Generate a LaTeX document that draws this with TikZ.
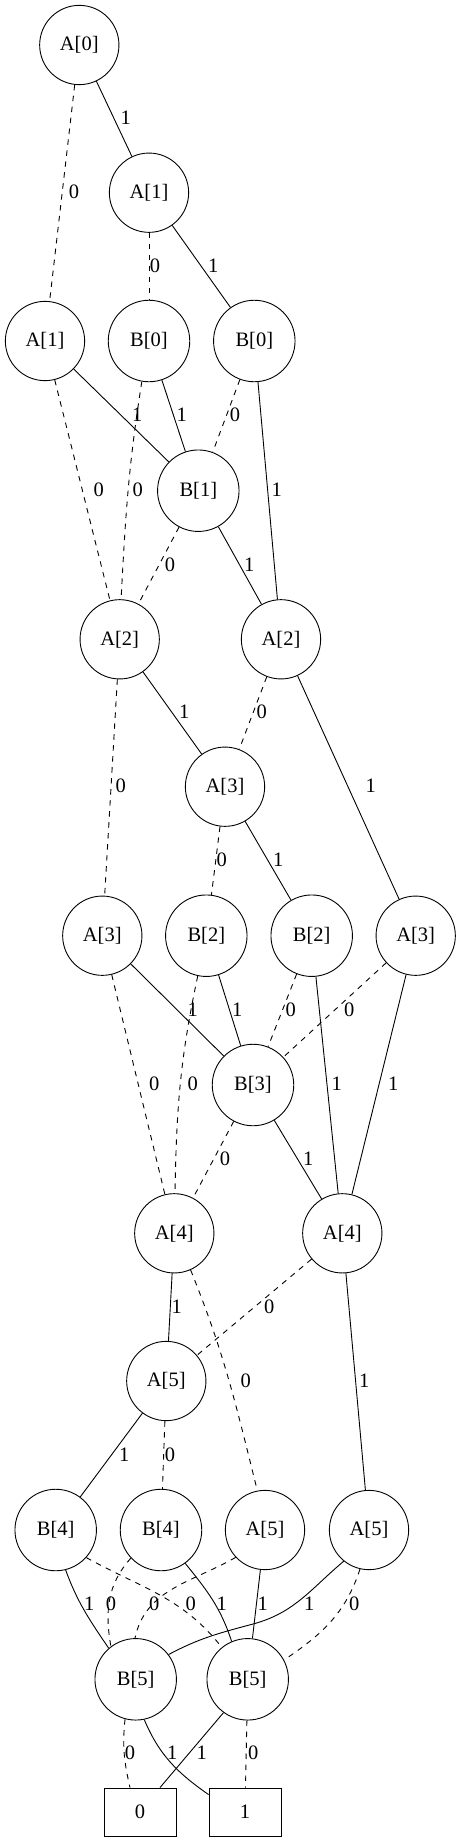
\documentclass[tikz,border=0pt]{standalone}
\usepackage{fontspec}
\setmainfont{Liberation Serif}
\begin{document}
\begin{tikzpicture}[x=1pt,y=-1pt,
  every node/.style={font=\fontsize{20.5}{24}\selectfont},
  anode/.style={draw,circle,line width=0.9pt,minimum size=79.3pt,inner sep=0pt},
  bnode/.style={draw,circle,line width=0.9pt,minimum size=81.5pt,inner sep=0pt},
  tnode/.style={draw,rectangle,line width=0.9pt,minimum width=72pt,minimum height=48pt,inner sep=0pt},
  oedge/.style={line width=0.9pt},
  zedge/.style={line width=0.9pt,dash pattern=on 5.5pt off 5.5pt},
  lbl/.style={inner sep=0pt}]
\useasboundingbox (0,0) rectangle (461,1842);
% nodes
\node[anode] (a0) at (79.3,45) {A[0]};
\node[anode] (a1) at (149,192.7) {A[1]};
\node[anode] (a1l) at (45,341) {A[1]};
\node[bnode] (b0m) at (149,341) {B[0]};
\node[bnode] (b0r) at (254.3,341) {B[0]};
\node[bnode] (b1) at (198.3,490.7) {B[1]};
\node[anode] (a2l) at (119.7,639.3) {A[2]};
\node[anode] (a2r) at (281,639.3) {A[2]};
\node[anode] (a3t) at (225,786.7) {A[3]};
\node[anode] (a3l) at (102.3,935.7) {A[3]};
\node[bnode] (b2l) at (206.3,935.7) {B[2]};
\node[bnode] (b2r) at (311.7,935.7) {B[2]};
\node[anode] (a3r) at (415.7,935.7) {A[3]};
\node[bnode] (b3) at (253,1085) {B[3]};
\node[anode] (a4l) at (174.3,1233.3) {A[4]};
\node[anode] (a4r) at (342.3,1233.3) {A[4]};
\node[anode] (a5t) at (166.3,1381) {A[5]};
\node[bnode] (b4l) at (55.7,1530) {B[4]};
\node[bnode] (b4m) at (161,1530) {B[4]};
\node[anode] (a5c) at (265,1530) {A[5]};
\node[anode] (a5r) at (369,1530) {A[5]};
\node[bnode] (b5l) at (135.7,1679.3) {B[5]};
\node[bnode] (b5r) at (247.7,1679.3) {B[5]};
\node[tnode] (t0) at (140,1812) {0};
\node[tnode] (t1) at (245,1812) {1};
\coordinate (w41) at (253,1624);
% edges
\draw[zedge] (a0) -- (a1l);
\draw[oedge] (a0) -- (a1);
\draw[zedge] (a1) -- (b0m);
\draw[oedge] (a1) -- (b0r);
\draw[oedge] (a1l) -- (b1);
\draw[zedge] (a1l) -- (a2l);
\draw[zedge] (b0m.-100) to[out=-99,in=87] (a2l.88);
\draw[oedge] (b0m) -- (b1);
\draw[zedge] (b0r) -- (b1);
\draw[oedge] (b0r) -- (a2r);
\draw[zedge] (b1) -- (a2l);
\draw[oedge] (b1) -- (a2r);
\draw[zedge] (a2l) -- (a3l);
\draw[oedge] (a2l) -- (a3t);
\draw[zedge] (a2r) -- (a3t);
\draw[oedge] (a2r) -- (a3r);
\draw[zedge] (a3t) -- (b2l);
\draw[oedge] (a3t) -- (b2r);
\draw[oedge] (a3l) -- (b3);
\draw[zedge] (a3l) -- (a4l);
\draw[zedge] (b2l.-102) to[out=-102,in=89] (a4l.89);
\draw[oedge] (b2l) -- (b3);
\draw[zedge] (b2r) -- (b3);
\draw[oedge] (b2r) -- (a4r);
\draw[zedge] (a3r) -- (b3);
\draw[oedge] (a3r) -- (a4r);
\draw[zedge] (b3) -- (a4l);
\draw[oedge] (b3) -- (a4r);
\draw[oedge] (a4l) -- (a5t);
\draw[zedge] (a4l.-66) to[out=-68,in=104] (a5c.101);
\draw[zedge] (a4r) -- (a5t);
\draw[oedge] (a4r) -- (a5r);
\draw[oedge] (a5t) -- (b4l);
\draw[zedge] (a5t) -- (b4m);
\draw[oedge] (b4l.-76) to[out=-70,in=124] (b5l.131);
\draw[zedge] (b4m.-137) to[out=-132,in=100] (b5l.127);
\draw[zedge] (a5c.-137) to[out=-150,in=78] (b5l.91);
\draw[zedge] (b4l.-42) to[out=-29,in=128] (b5r.129);
\draw[oedge] (b4m.-54) to[out=-51,in=108] (b5r.113);
\draw[oedge] (a5c) -- (b5r);
\draw[oedge] (a5r.-129) to[out=-140,in=15] (w41) to[out=-165,in=28] (b5l.37);
\draw[zedge] (a5r.-103) to[out=-108,in=34] (b5r.28);
\draw[zedge] (b5l.-105) to[out=-96,in=103] ([xshift=-10pt]t0.north);
\draw[oedge] (b5l.-78) to[out=-67,in=145] ([yshift=-7pt]t1.north west);
\draw[oedge] (b5r.-126) -- ([xshift=20pt]t0.north);
\draw[zedge] (b5r) -- (t1);
% labels
\node[lbl] (l1) at (74,191.7) {0};
\node[lbl] (l2) at (125.7,117.3) {1};
\node[lbl] (l3) at (155,265.7) {0};
\node[lbl] (l4) at (213.3,265.7) {1};
\node[lbl] (l5) at (137.3,414.3) {1};
\node[lbl] (l6) at (98.7,489.3) {0};
\node[lbl] (l7) at (137.7,489.3) {0};
\node[lbl] (l8) at (181.7,414.3) {1};
\node[lbl] (l9) at (235,415) {0};
\node[lbl] (l10) at (276.7,490) {1};
\node[lbl] (l11) at (170,564.3) {0};
\node[lbl] (l12) at (249.3,564.3) {1};
\node[lbl] (l13) at (120.7,785.7) {0};
\node[lbl] (l14) at (184.3,711.7) {1};
\node[lbl] (l15) at (261.7,711.7) {0};
\node[lbl] (l16) at (370.7,785.7) {1};
\node[lbl] (l17) at (221.7,860) {0};
\node[lbl] (l18) at (278.3,860) {1};
\node[lbl] (l19) at (192.7,1010) {1};
\node[lbl] (l20) at (154.3,1083.3) {0};
\node[lbl] (l21) at (192.7,1083.3) {0};
\node[lbl] (l22) at (237.3,1010) {1};
\node[lbl] (l23) at (290.7,1010) {0};
\node[lbl] (l24) at (336.7,1083.3) {1};
\node[lbl] (l25) at (349.3,1010) {0};
\node[lbl] (l26) at (393.3,1083.3) {1};
\node[lbl] (l27) at (225,1159) {0};
\node[lbl] (l28) at (308.3,1159) {1};
\node[lbl] (l29) at (176.7,1306.7) {1};
\node[lbl] (l30) at (245.7,1381) {0};
\node[lbl] (l31) at (269.3,1306.7) {0};
\node[lbl] (l32) at (364.3,1381) {1};
\node[lbl] (l33) at (124.3,1454.3) {1};
\node[lbl] (l34) at (170,1454.3) {0};
\node[lbl] (l35) at (89.3,1604) {1};
\node[lbl] (l36) at (111,1604) {0};
\node[lbl] (l37) at (154.3,1604) {0};
\node[lbl] (l38) at (190.7,1604) {0};
\node[lbl] (l39) at (221.7,1604) {1};
\node[lbl] (l40) at (262.7,1604) {1};
\node[lbl] (l41) at (309.3,1604) {1};
\node[lbl] (l42) at (354.3,1604) {0};
\node[lbl] (l43) at (130,1752.3) {0};
\node[lbl] (l44) at (172.3,1752.3) {1};
\node[lbl] (l45) at (201.7,1752.3) {1};
\node[lbl] (l46) at (253.3,1752.3) {0};
\end{tikzpicture}
\end{document}
